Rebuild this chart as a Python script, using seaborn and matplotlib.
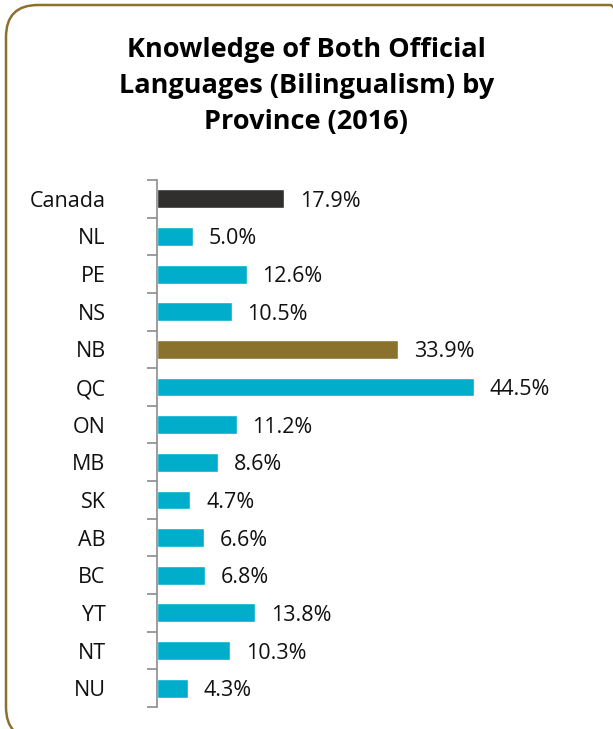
import matplotlib
matplotlib.use("Agg")
import matplotlib.pyplot as plt
import seaborn as sns
import numpy as np
from matplotlib.patches import FancyBboxPatch
from matplotlib.ticker import FixedLocator

# Data
provinces = ["Canada", "NL", "PE", "NS", "NB", "QC", "ON", "MB", "SK", "AB", "BC", "YT", "NT", "NU"]
bilingual_pct = [17.9, 5.0, 12.6, 10.5, 33.9, 44.5, 11.2, 8.6, 4.7, 6.6, 6.8, 13.8, 10.3, 4.3]
value_labels = ["17.9%", "5.0%", "12.6%", "10.5%", "33.9%", "44.5%", "11.2%", "8.6%",
                "4.7%", "6.6%", "6.8%", "13.8%", "10.3%", "4.3%"]

CYAN = "#00AECB"
DARK = "#302F2D"
OLIVE = "#8A712C"
bar_colors = {p: CYAN for p in provinces}
bar_colors["Canada"] = DARK
bar_colors["NB"] = OLIVE

sns.set_style("white")
plt.rcParams["font.family"] = ["Open Sans", "DejaVu Sans"]

fig = plt.figure(figsize=(6.13, 7.29), dpi=100)
ax = fig.add_axes([157 / 613, 1 - 707 / 729, 403 / 613, 527 / 729])

sns.barplot(x=bilingual_pct, y=provinces, hue=provinces, palette=bar_colors,
            legend=False, width=0.5, ax=ax, saturation=1, orient="h")

ax.set_xlim(0, 403 / 7.12)
ax.set_ylim(len(provinces) - 0.5, -0.5)

for i, (v, lab) in enumerate(zip(bilingual_pct, value_labels)):
    ax.text(v + 2.2, i, lab, va="center_baseline", ha="left", fontsize=15.5, color="#111111")

# axis styling
for s in ["top", "right", "bottom"]:
    ax.spines[s].set_visible(False)
ax.spines["left"].set_color("#8C8C8C")
ax.spines["left"].set_linewidth(1.2)
ax.set_xticks([])
ax.set_xlabel("")
ax.set_ylabel("")
ax.tick_params(axis="y", which="major", length=0, pad=37, labelsize=15.5, labelcolor="#111111")
ax.yaxis.set_minor_locator(FixedLocator(np.arange(-0.5, len(provinces), 1.0)))
ax.tick_params(axis="y", which="minor", length=7, width=1.2, color="#8C8C8C", left=True)

fig.text(0.5, 1 - 86 / 729, "Knowledge of Both Official\nLanguages (Bilingualism) by\nProvince (2016)",
         ha="center", va="center", fontsize=19.5, fontweight="bold", linespacing=1.5, color="black")

# rounded frame around the chart; right side runs past the image edge
frame = FancyBboxPatch((6, -10), 636, 734, boxstyle="round,pad=0,rounding_size=32",
                       transform=None, fill=False, edgecolor=OLIVE, linewidth=1.8)
fig.patches.append(frame)

fig.savefig("out.png", dpi=100)
